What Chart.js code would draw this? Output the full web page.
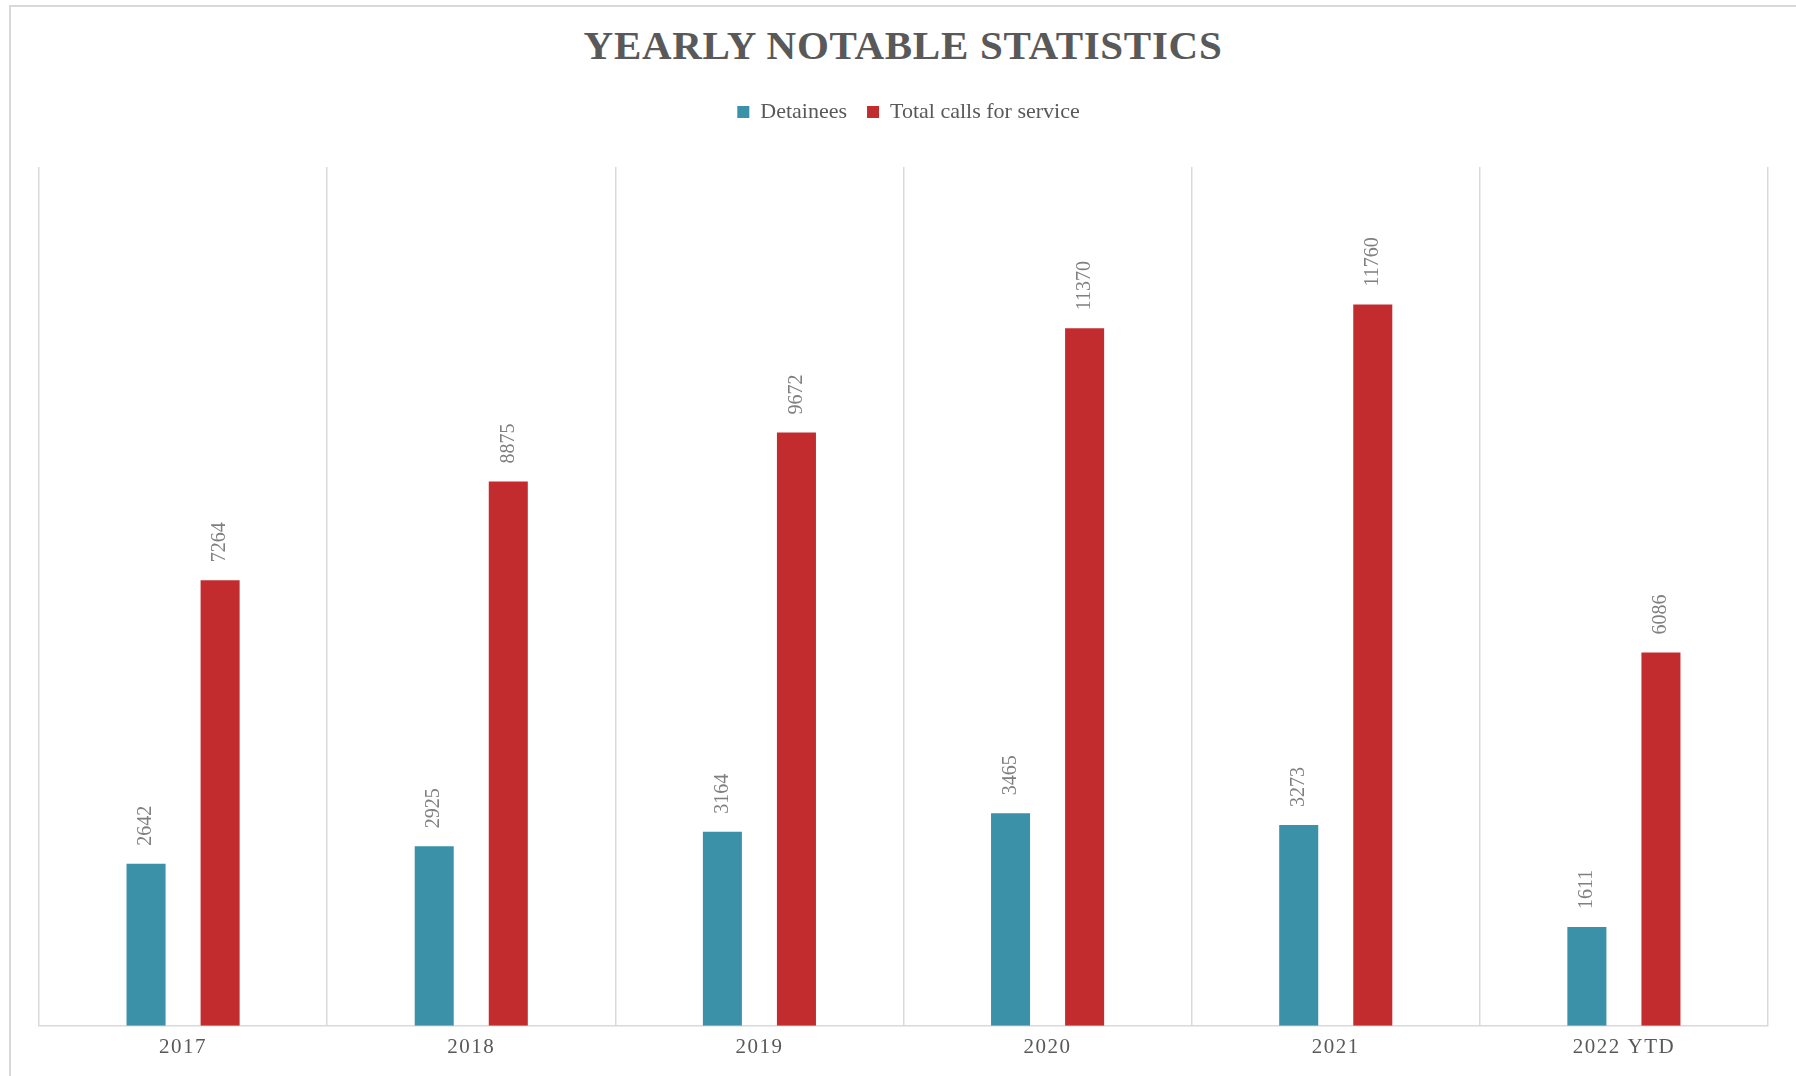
<!DOCTYPE html>
<html>
<head>
<meta charset="utf-8">
<title>Yearly Notable Statistics</title>
<script src="https://cdn.jsdelivr.net/npm/chart.js@4.4.1/dist/chart.umd.min.js"></script>
<style>
  html, body { margin: 0; padding: 0; background: #fff; overflow: hidden; }
  .frame { position: absolute; left: 9px; top: 5px; width: 2000px; height: 1200px;
           border-top: 2px solid #d9d9d9; border-left: 2px solid #d9d9d9; }
  h1 { position: absolute; top: 25px; left: 0; width: 1806px; margin: 0; text-align: center;
       font: bold 41px 'Liberation Serif', serif; line-height: 41px; letter-spacing: 0.7px; color: #595959; }
  canvas { position: absolute; left: 0; top: 0; }
</style>
</head>
<body>
<div class="frame"></div>
<h1>YEARLY NOTABLE STATISTICS</h1>
<canvas id="chart" width="1796" height="1076"></canvas>
<script>
const years = ['2017', '2018', '2019', '2020', '2021', '2022 YTD']
const detainees = [2642, 2925, 3164, 3465, 3273, 1611]
const callsForService = [7264, 8875, 9672, 11370, 11760, 6086]
const yMax = 14000

const serif = '"Liberation Serif", "Times New Roman", serif'

// rotated value labels above each bar, plus letter spacing for the year labels
const barLabels = {
  id: 'barLabels',
  beforeDraw (chart) {
    chart.ctx.letterSpacing = '0px'
  },
  afterLayout (chart) {
    // legend sits a little right of the plot centre in the original
    chart.legend.left += 5
    chart.legend.right += 5
  },
  afterDatasetsDraw (chart) {
    let ctx = chart.ctx
    ctx.save()
    ctx.letterSpacing = '0px'
    ctx.font = '20px ' + serif
    ctx.fillStyle = '#808080'
    ctx.textAlign = 'left'
    ctx.textBaseline = 'middle'
    chart.data.datasets.forEach(function (ds, i) {
      chart.getDatasetMeta(i).data.forEach(function (bar, j) {
        ctx.save()
        ctx.translate(bar.x, bar.y - 18)
        ctx.rotate(-Math.PI / 2)
        ctx.fillText(String(ds.data[j]), 0, 0)
        ctx.restore()
      })
    })
    ctx.restore()
    // x tick labels (z: 1) are drawn right after this
    ctx.letterSpacing = '1.5px'
  },
  afterDraw (chart) {
    chart.ctx.letterSpacing = '0px'
  }
}

new Chart(document.getElementById('chart'), {
  type: 'bar',
  data: {
    labels: years,
    datasets: [
      {
        label: 'Detainees',
        data: detainees,
        backgroundColor: '#3a91a8',
        borderWidth: 0,
        categoryPercentage: 0.514,
        barPercentage: 0.527
      },
      {
        label: 'Total calls for service',
        data: callsForService,
        backgroundColor: '#c22c2f',
        borderWidth: 0,
        categoryPercentage: 0.514,
        barPercentage: 0.527
      }
    ]
  },
  options: {
    responsive: false,
    animation: false,
    devicePixelRatio: 1,
    layout: { padding: { top: 81, left: 39, right: 28, bottom: 7 } },
    plugins: {
      title: { display: false },
      tooltip: { enabled: false },
      legend: {
        position: 'top',
        labels: {
          boxWidth: 12,
          boxHeight: 12,
          padding: 20,
          color: '#595959',
          font: { family: serif, size: 22 }
        }
      }
    },
    scales: {
      x: {
        grid: { color: '#d9d9d9', lineWidth: 1.5, drawTicks: false },
        border: { color: '#d9d9d9', width: 1.5 },
        ticks: { z: 1, padding: 9, color: '#595959', font: { family: serif, size: 21 } }
      },
      top: {
        type: 'category',
        position: 'top',
        grid: { display: false },
        border: { display: false },
        ticks: { display: false },
        afterFit: function (scale) { scale.height = 34 }
      },
      y: { display: false, min: 0, max: yMax }
    }
  },
  plugins: [barLabels]
})
</script>
</body>
</html>
